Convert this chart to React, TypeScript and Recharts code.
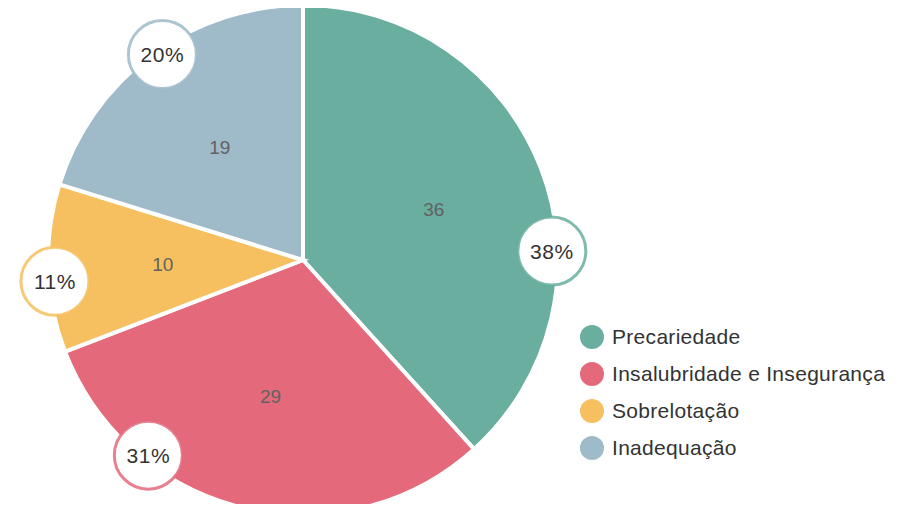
import { PieChart, Pie, Cell, Legend } from "recharts";

const categories = ["Precariedade", "Insalubridade e Insegurança", "Sobrelotação", "Inadequação"];
const counts = [36, 29, 10, 19];
const colors = ["#69ae9f", "#e46a7b", "#f6bf5f", "#9fbac9"];

const data = categories.map((name, i) => ({ name, value: counts[i] }));

const FONT = "'Liberation Sans', Arial, sans-serif";
const RAD = Math.PI / 180;
// small clockwise nudges so badges sit where the original puts them
const badgeShift = [19, 25, -3, 2];

const renderLabel = (props: any) => {
  const { cx, cy, midAngle, outerRadius, percent, value, index } = props;
  const rIn = outerRadius * 0.55;
  const xi = cx + rIn * Math.cos(-midAngle * RAD);
  const yi = cy + rIn * Math.sin(-midAngle * RAD);
  const a = midAngle - badgeShift[index];
  const rOut = outerRadius - 6;
  const xo = cx + rOut * Math.cos(-a * RAD);
  const yo = cy + rOut * Math.sin(-a * RAD);
  return (
    <g>
      <text x={xi} y={yi} fill="#626262" fontSize={19} fontFamily={FONT} textAnchor="middle" dominantBaseline="central">
        {value}
      </text>
      <circle cx={xo} cy={yo} r={34} fill="#ffffff" stroke={colors[index]} strokeWidth={3} strokeOpacity={0.85} />
      <text x={xo} y={yo} fill="#333333" fontSize={21} letterSpacing={0.5} fontFamily={FONT} textAnchor="middle" dominantBaseline="central">
        {`${Math.round(percent * 100)}%`}
      </text>
    </g>
  );
};

const renderLegend = () => (
  <div style={{ fontFamily: FONT }}>
    {categories.map((c, i) => (
      <div key={c} style={{ display: "flex", alignItems: "center", height: 37 }}>
        <span
          style={{
            width: 24,
            height: 24,
            borderRadius: 12,
            background: colors[i],
            display: "inline-block",
            marginRight: 8,
            flexShrink: 0,
          }}
        />
        <span style={{ fontSize: 21, letterSpacing: 0.3, color: "#333", whiteSpace: "nowrap" }}>{c}</span>
      </div>
    ))}
  </div>
);

export default function App() {
  return (
    <div style={{ margin: -8, background: "#fff", fontFamily: FONT }}>
      <PieChart width={909} height={512} margin={{ top: 0, right: 0, bottom: 0, left: 0 }}>
        <Pie
          data={data}
          dataKey="value"
          nameKey="name"
          cx={303}
          cy={260}
          outerRadius={255}
          startAngle={90}
          endAngle={-270}
          stroke="#ffffff"
          strokeWidth={4}
          labelLine={false}
          label={renderLabel}
          isAnimationActive={false}
        >
          {data.map((d, i) => (
            <Cell key={d.name} fill={colors[i]} />
          ))}
        </Pie>
        <Legend content={renderLegend} wrapperStyle={{ left: 580, top: 318, width: 329 }} />
      </PieChart>
    </div>
  );
}
